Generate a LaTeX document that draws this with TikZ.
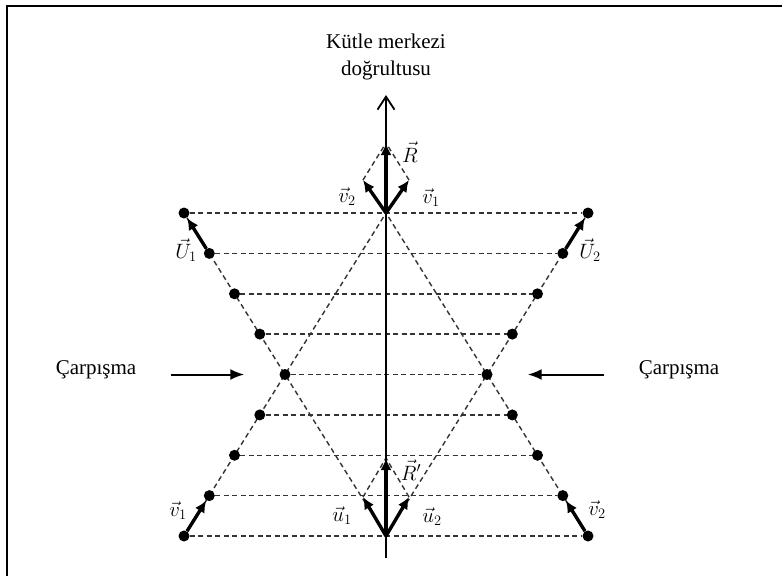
\documentclass[tikz,border=0pt]{standalone}
\usepackage{fontspec}
\setmainfont{Liberation Serif}
\usetikzlibrary{arrows.meta,positioning,backgrounds}
\tikzset{
dotnode/.style={
  circle,
  fill=black,
  inner sep=0pt,
  minimum size=11pt
},
guideline/.style={
  draw=black!80,
  line width=1.4pt,
  dash pattern=on 5pt off 3.5pt
},
vecarrow/.style={
  -{Latex[length=12pt,width=11pt]},
  line width=3.4pt,
  draw=black
},
axisarrow/.style={
  -{Straight Barb[length=13pt,width=17pt]},
  line width=1.8pt,
  draw=black
},
hitarrow/.style={
  -{Latex[length=14pt,width=11pt]},
  line width=2pt,
  draw=black
},
labnode/.style={
  inner sep=0pt,
  font=\fontsize{20}{22}\selectfont
},
sidetext/.style={
  inner sep=0pt,
  font=\fontsize{21}{25}\selectfont
},
titlenode/.style={
  inner sep=0pt,
  align=center,
  font=\fontsize{21}{27}\selectfont
}
}

\begin{document}
\begin{tikzpicture}[x=1pt,y=-1pt]
\useasboundingbox (0,0) rectangle (782,576);
\draw[line width=1.6pt] (7,576) -- (7,6) -- (782,6);

\coordinate (ct) at (386,213);
\coordinate (cb) at (386,536);
\coordinate (axb) at (386,558);
\coordinate (axt) at (386,95);
\coordinate (v1t) at (409,180);
\coordinate (v2t) at (363,180);
\coordinate (rt) at (386,143);
\coordinate (u1t) at (363,497);
\coordinate (u2t) at (409,497);
\coordinate (rbt) at (386,458);

\node[dotnode] (l1) at (184,213) {};
\node[dotnode] (l2) at (209.3,253.4) {};
\node[dotnode] (l3) at (234.5,293.8) {};
\node[dotnode] (l4) at (259.8,334.1) {};
\node[dotnode] (l5) at (285,374.5) {};
\node[dotnode] (l6) at (259.8,414.9) {};
\node[dotnode] (l7) at (234.5,455.3) {};
\node[dotnode] (l8) at (209.3,495.6) {};
\node[dotnode] (l9) at (184,536) {};
\node[dotnode] (r1) at (588,213) {};
\node[dotnode] (r2) at (562.8,253.4) {};
\node[dotnode] (r3) at (537.5,293.8) {};
\node[dotnode] (r4) at (512.3,334.1) {};
\node[dotnode] (r5) at (487,374.5) {};
\node[dotnode] (r6) at (512.3,414.9) {};
\node[dotnode] (r7) at (537.5,455.3) {};
\node[dotnode] (r8) at (562.8,495.6) {};
\node[dotnode] (r9) at (588,536) {};

\begin{scope}[on background layer]
\draw[guideline] (l1) -- (r1);
\draw[guideline] (l2) -- (r2);
\draw[guideline] (l3) -- (r3);
\draw[guideline] (l4) -- (r4);
\draw[guideline] (l5) -- (r5);
\draw[guideline] (l6) -- (r6);
\draw[guideline] (l7) -- (r7);
\draw[guideline] (l8) -- (r8);
\draw[guideline] (l9) -- (r9);
\draw[guideline] (l1) -- (cb);
\draw[guideline] (r1) -- (cb);
\draw[guideline] (l9) -- (ct);
\draw[guideline] (r9) -- (ct);
\draw[guideline] (v1t) -- (rt);
\draw[guideline] (v2t) -- (rt);
\draw[guideline] (u1t) -- (rbt);
\draw[guideline] (u2t) -- (rbt);
\end{scope}

\draw[axisarrow] (axb) -- (axt);
\node[titlenode, above=15pt of axt] (title) {Kütle merkezi\\doğrultusu};

\draw[vecarrow] (ct) -- (rt);
\draw[vecarrow] (ct) -- (v1t);
\draw[vecarrow] (ct) -- (v2t);
\draw[vecarrow] (cb) -- (rbt);
\draw[vecarrow] (cb) -- (u1t);
\draw[vecarrow] (cb) -- (u2t);
\draw[vecarrow] (l2) -- (l1);
\draw[vecarrow] (r2) -- (r1);
\draw[vecarrow] (l9) -- (l8);
\draw[vecarrow] (r9) -- (r8);

\node[labnode] (labR) at (410,152) {$\vec{R}$};
\node[labnode] (labv2t) at (347,197) {$\vec{v}_2$};
\node[labnode] (labv1t) at (431,198) {$\vec{v}_1$};
\node[labnode] (labU1) at (186,250) {$\vec{U}_1$};
\node[labnode] (labU2) at (590,250) {$\vec{U}_2$};
\node[labnode] (labRb) at (411,470) {$\vec{R}'$};
\node[labnode] (labu1) at (342,516) {$\vec{u}_1$};
\node[labnode] (labu2) at (432,517) {$\vec{u}_2$};
\node[labnode] (labv1b) at (178,511) {$\vec{v}_1$};
\node[labnode] (labv2b) at (597,510) {$\vec{v}_2$};

\node[sidetext] (hitl) at (96,370) {Çarpışma};
\node[sidetext] (hitr) at (679,370) {Çarpışma};
\draw[hitarrow, shorten <=35pt, shorten >=35pt] (hitl.east |- l5) -- (l5);
\draw[hitarrow, shorten <=35pt, shorten >=35pt] (hitr.west |- r5) -- (r5);

\end{tikzpicture}
\end{document}
